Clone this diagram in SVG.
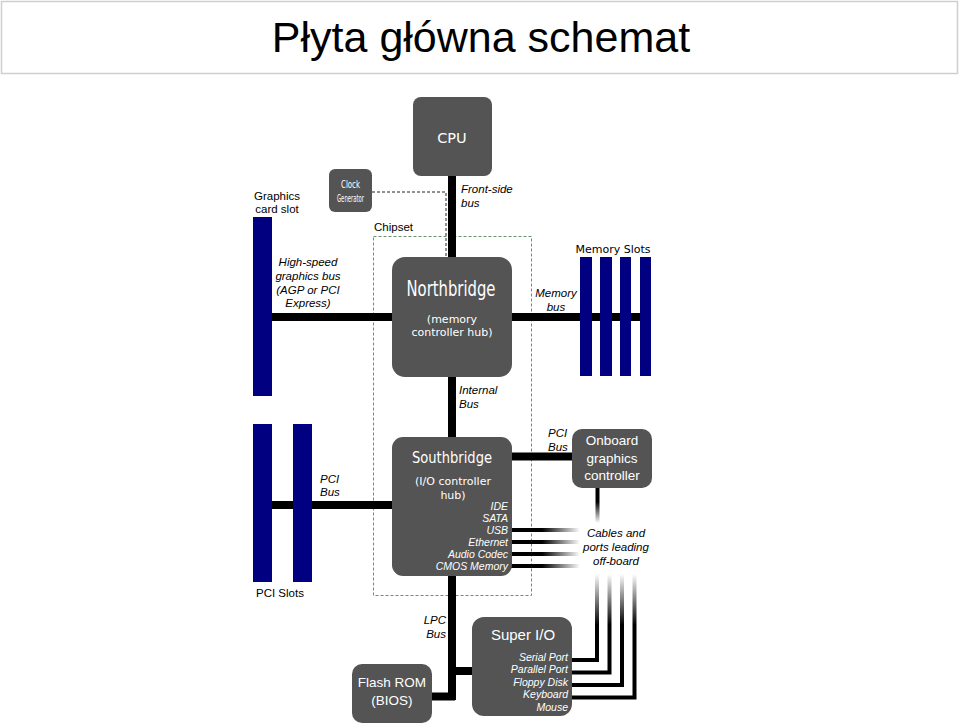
<svg xmlns="http://www.w3.org/2000/svg" width="960" height="726" viewBox="0 0 960 726">
<defs>
<linearGradient id="gH" gradientUnits="userSpaceOnUse" x1="511" y1="0" x2="580" y2="0">
<stop offset="0" stop-color="#000" stop-opacity="1"/>
<stop offset="0.45" stop-color="#000" stop-opacity="1"/>
<stop offset="1" stop-color="#000" stop-opacity="0"/>
</linearGradient>
<linearGradient id="gV" gradientUnits="userSpaceOnUse" x1="0" y1="574" x2="0" y2="625">
<stop offset="0" stop-color="#000" stop-opacity="0"/>
<stop offset="1" stop-color="#000" stop-opacity="1"/>
</linearGradient>
<linearGradient id="gO" gradientUnits="userSpaceOnUse" x1="0" y1="488" x2="0" y2="523">
<stop offset="0" stop-color="#000" stop-opacity="1"/>
<stop offset="0.4" stop-color="#000" stop-opacity="1"/>
<stop offset="1" stop-color="#000" stop-opacity="0"/>
</linearGradient>
</defs>
<style>
.box{fill:#545454}
.slot{fill:#000080}
.bus{stroke:#000;stroke-width:8;fill:none}
.cab{stroke-width:4;fill:none}
.wt{fill:#fff;font-family:"Liberation Sans",Arial,sans-serif;text-anchor:middle}
.wd{fill:#fff;font-family:"DejaVu Sans","Noto Sans",sans-serif;text-anchor:middle}
.lbl{fill:#000;font-family:"Liberation Sans",Arial,sans-serif;font-size:11.5px}
.it{fill:#000;font-family:"Liberation Sans",Arial,sans-serif;font-size:11.5px;font-style:italic}
.wi{fill:#fff;font-family:"Liberation Sans",Arial,sans-serif;font-size:10.5px;font-style:italic;text-anchor:end}
.mid{text-anchor:middle}
</style>
<rect width="960" height="726" fill="#fff"/>
<g id="title">
<rect x="1.5" y="1.5" width="956" height="72" fill="#fff" stroke="#cfcfcf" stroke-width="1.5"/>
<text x="481" y="52" font-family="Liberation Sans,Arial,sans-serif" font-size="43" text-anchor="middle" fill="#000">Płyta główna schemat</text>
</g>
<g id="connectors">
<rect x="373.5" y="236.5" width="158" height="359" fill="none" stroke="#6b916b" stroke-width="1" stroke-dasharray="3,2"/>
<path d="M452 176 V258" class="bus"/>
<path d="M372 192 H446 V257" fill="none" stroke="#222" stroke-width="1" stroke-dasharray="3,2"/>
<path d="M272 317 H392" class="bus"/>
<path d="M511 317 H641" class="bus"/>
<path d="M452 376 V438" class="bus" stroke-width="7"/>
<path d="M272 505 H392" class="bus" stroke-width="7"/>
<path d="M511 456.5 H573" class="bus" stroke-width="7"/>
<path d="M452 575 V700 M452 671 H473 M432 696.5 H455" class="bus" stroke-width="7"/>
<path d="M511 530 H580 M511 542 H580 M511 554 H580 M511 566 H580" class="cab" stroke="url(#gH)"/>
<path d="M597.5 488 V523" class="cab" stroke="url(#gO)"/>
<path d="M597 574 V660 H571 M609.5 574 V672.5 H571 M622 574 V685 H571 M634.5 574 V697.5 H571" class="cab" stroke="url(#gV)"/>
</g>
<g id="cpu">
<rect x="413" y="97" width="79" height="79" rx="8" class="box"/>
<text x="452" y="143" class="wd" font-size="14.5">CPU</text>
</g>
<g id="clock">
<rect x="329" y="169" width="43" height="43" rx="6" class="box"/>
<text x="350.5" y="188" class="wd" font-size="10" textLength="19" lengthAdjust="spacingAndGlyphs">Clock</text>
<text x="350.5" y="201.5" class="wd" font-size="10" textLength="27" lengthAdjust="spacingAndGlyphs">Generator</text>
</g>
<g id="fsb-label">
<text x="461" y="193" class="it">Front-side</text>
<text x="461" y="207" class="it">bus</text>
</g>
<g id="graphics-slot">
<text x="277" y="200" class="lbl mid">Graphics</text>
<text x="277" y="213" class="lbl mid">card slot</text>
<rect x="253" y="217" width="19" height="179" class="slot"/>
</g>
<g id="chipset-label">
<text x="374" y="231" class="lbl">Chipset</text>
</g>
<g id="agp-label">
<text x="308" y="266" class="it mid">High-speed</text>
<text x="308" y="280" class="it mid">graphics bus</text>
<text x="308" y="294" class="it mid">(AGP or PCI</text>
<text x="308" y="307" class="it mid">Express)</text>
</g>
<g id="northbridge">
<rect x="392" y="257" width="120" height="120" rx="13" class="box"/>
<text x="451" y="296" class="wd" font-size="21" textLength="89" lengthAdjust="spacingAndGlyphs">Northbridge</text>
<text x="452" y="323" class="wd" font-size="11">(memory</text>
<text x="452" y="336" class="wd" font-size="11">controller hub)</text>
</g>
<g id="memory-bus-label">
<text x="556" y="297" class="it mid">Memory</text>
<text x="556" y="311" class="it mid">bus</text>
</g>
<g id="memory-slots">
<text x="613" y="253" class="wd" font-size="11" style="fill:#000">Memory Slots</text>
<rect x="580" y="257" width="12" height="119" class="slot"/>
<rect x="600" y="257" width="12" height="119" class="slot"/>
<rect x="620" y="257" width="11" height="119" class="slot"/>
<rect x="640" y="257" width="11" height="119" class="slot"/>
</g>
<g id="internal-bus-label">
<text x="459" y="394" class="it">Internal</text>
<text x="459" y="408" class="it">Bus</text>
</g>
<g id="pci-slots">
<rect x="253" y="424" width="19" height="158" class="slot"/>
<rect x="293" y="424" width="19" height="158" class="slot"/>
<text x="256" y="597" class="lbl">PCI Slots</text>
</g>
<g id="pci-bus-label-left">
<text x="320" y="483" class="it">PCI</text>
<text x="320" y="496" class="it">Bus</text>
</g>
<g id="southbridge">
<rect x="392" y="437" width="120" height="139" rx="11" class="box"/>
<text x="452" y="463" class="wd" font-size="16.5" textLength="80" lengthAdjust="spacingAndGlyphs">Southbridge</text>
<text x="453" y="485" class="wd" font-size="11">(I/O controller</text>
<text x="453" y="499" class="wd" font-size="11">hub)</text>
<text x="508" y="510" class="wi">IDE</text>
<text x="508" y="522" class="wi">SATA</text>
<text x="508" y="534" class="wi">USB</text>
<text x="508" y="546" class="wi">Ethernet</text>
<text x="508" y="558" class="wi">Audio Codec</text>
<text x="508" y="570" class="wi">CMOS Memory</text>
</g>
<g id="pci-bus-label-right">
<text x="548" y="437" class="it">PCI</text>
<text x="548" y="451" class="it">Bus</text>
</g>
<g id="onboard-graphics">
<rect x="572" y="429" width="80" height="59" rx="10" class="box"/>
<text x="612" y="445" class="wt" font-size="13.5">Onboard</text>
<text x="612" y="463" class="wt" font-size="13.5">graphics</text>
<text x="612" y="480" class="wt" font-size="13.5">controller</text>
</g>
<g id="cables-label">
<text x="616" y="537" class="it mid">Cables and</text>
<text x="616" y="551" class="it mid">ports leading</text>
<text x="616" y="565" class="it mid">off-board</text>
</g>
<g id="lpc-bus-label">
<text x="446" y="624" class="it" text-anchor="end">LPC</text>
<text x="446" y="638" class="it" text-anchor="end">Bus</text>
</g>
<g id="super-io">
<rect x="472" y="617" width="100" height="99" rx="12" class="box"/>
<text x="523" y="640" class="wt" font-size="15">Super I/O</text>
<text x="568" y="661" class="wi">Serial Port</text>
<text x="568" y="673" class="wi">Parallel Port</text>
<text x="568" y="686" class="wi">Floppy Disk</text>
<text x="568" y="698" class="wi">Keyboard</text>
<text x="568" y="711" class="wi">Mouse</text>
</g>
<g id="flash-rom">
<rect x="352" y="664" width="80" height="59" rx="10" class="box"/>
<text x="392" y="687" class="wt" font-size="13.5">Flash ROM</text>
<text x="392" y="705" class="wt" font-size="13.5">(BIOS)</text>
</g>
</svg>
